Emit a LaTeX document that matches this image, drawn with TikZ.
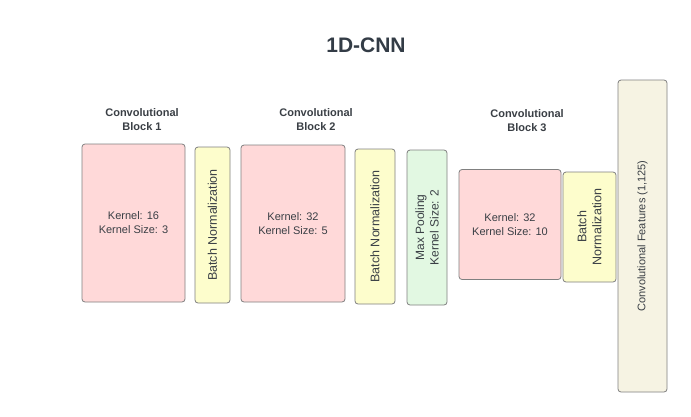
\documentclass[tikz,border=0pt]{standalone}
\usepackage{fontspec}
\setmainfont{Liberation Sans}
\definecolor{pinkf}{HTML}{FFD9D9}
\definecolor{yelf}{HTML}{FDFDCC}
\definecolor{grnf}{HTML}{E2F8E2}
\definecolor{begf}{HTML}{F6F3E3}
\definecolor{edgec}{HTML}{808080}
\definecolor{txt}{HTML}{3A3F45}
\definecolor{ttl}{HTML}{333C46}
\begin{document}
\begin{tikzpicture}[x=1pt,y=-1pt,
  blk/.style={draw=edgec,line width=0.8pt,rounded corners=3pt,inner sep=0pt,align=center,text=txt,font=\fontsize{11}{14}\selectfont},
  rblk/.style={blk,rotate=90},
  bnfont/.style={font=\fontsize{12.5}{15}\selectfont},
  hdr/.style={align=center,text=txt,font=\fontsize{11}{14}\selectfont\bfseries}]
\useasboundingbox (0,0) rectangle (691,416);
\fill[white] (0,0) rectangle (691,416);
\node[text=ttl,font=\fontsize{21}{24}\selectfont\bfseries] (title) at (366,45) {1D-CNN};
\node[hdr] (h1) at (142,120) {Convolutional\\Block 1};
\node[hdr] (h2) at (316,120) {Convolutional\\Block 2};
\node[hdr] (h3) at (527,121) {Convolutional\\Block 3};
\node[blk,fill=pinkf,minimum width=103pt,minimum height=158pt] (c1) at (133.5,223) {Kernel: 16\\Kernel Size: 3};
\node[rblk,bnfont,fill=yelf,minimum width=156pt,minimum height=35pt] (b1) at (212.5,225) {Batch Normalization};
\node[blk,fill=pinkf,minimum width=104pt,minimum height=157pt] (c2) at (293,223.5) {Kernel: 32\\Kernel Size: 5};
\node[rblk,bnfont,fill=yelf,minimum width=155pt,minimum height=40pt] (b2) at (375,226.5) {Batch Normalization};
\node[rblk,fill=grnf,font=\fontsize{12}{14.5}\selectfont,minimum width=155pt,minimum height=40pt] (mp) at (427,227.5) {Max Pooling\\Kernel Size: 2};
\node[blk,fill=pinkf,minimum width=102pt,minimum height=110pt] (c3) at (510,224.5) {Kernel: 32\\Kernel Size: 10};
\node[rblk,bnfont,fill=yelf,minimum width=110pt,minimum height=53pt] (b3) at (589.5,227) {Batch\\Normalization};
\node[rblk,fill=begf,minimum width=312pt,minimum height=49pt] (cf) at (642.5,236) {Convolutional Features (1,125)};
\end{tikzpicture}
\end{document}
